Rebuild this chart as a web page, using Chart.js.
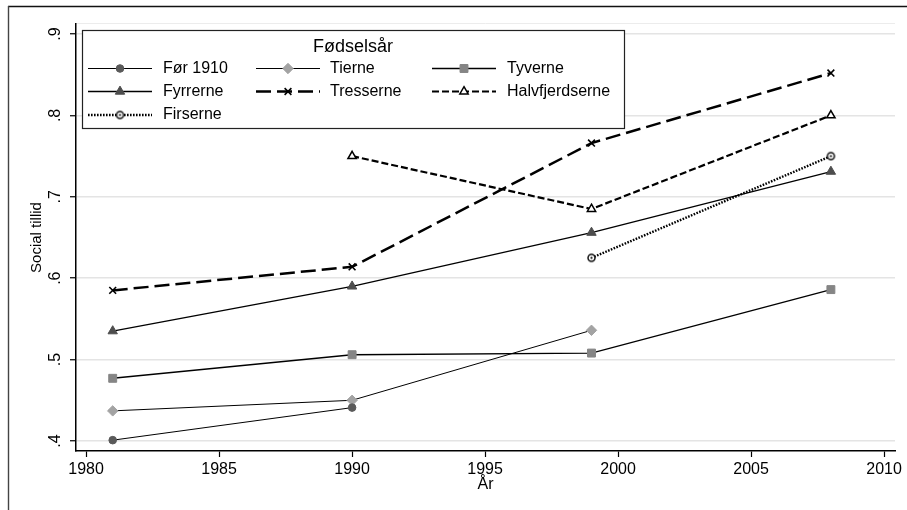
<!DOCTYPE html>
<html lang="da">
<head>
<meta charset="UTF-8">
<title>Social tillid efter fødselsår</title>
<script src="https://cdn.jsdelivr.net/npm/chart.js"></script>
<style>
  html, body { margin: 0; padding: 0; background: #fff; }
  #chart { display: block; }
</style>
</head>
<body>
<canvas id="chart" width="907" height="510"></canvas>
<script>
// survey years and cohort values
const years = [1981, 1990, 1999, 2008];
const for1910 = [0.401, 0.441, null, null];
const tierne = [0.437, 0.450, 0.536, null];
const tyverne = [0.477, 0.506, 0.508, 0.586];
const fyrrerne = [0.535, 0.590, 0.656, 0.731];
const tresserne = [0.585, 0.614, 0.766, 0.852];
const halvfjerdserne = [null, 0.750, 0.685, 0.800];
const firserne = [null, null, 0.625, 0.750];

const xTicks = [1980, 1985, 1990, 1995, 2000, 2005, 2010];
const yTicks = [0.4, 0.5, 0.6, 0.7, 0.8, 0.9];
const yTickLabels = ['.4', '.5', '.6', '.7', '.8', '.9'];

const FONT = '"Liberation Sans", Arial, sans-serif';

function points(vals) {
  const out = [];
  vals.forEach(function (v, i) {
    if (v !== null) out.push({ x: years[i], y: v });
  });
  return out;
}

// hollow circle with a dot in the middle
function ringDot() {
  const c = document.createElement('canvas');
  c.width = 11; c.height = 11;
  const g = c.getContext('2d');
  g.beginPath();
  g.arc(5.5, 5.5, 3.5, 0, Math.PI * 2);
  g.fillStyle = '#fff';
  g.fill();
  g.lineWidth = 1.5;
  g.strokeStyle = '#111';
  g.stroke();
  g.beginPath();
  g.arc(5.5, 5.5, 1.1, 0, Math.PI * 2);
  g.fillStyle = '#000';
  g.fill();
  return c;
}

function series(label, vals, o) {
  return {
    label: label,
    data: points(vals),
    borderColor: '#000',
    borderWidth: o.width,
    borderDash: o.dash || [],
    pointStyle: o.style,
    pointRadius: o.radius,
    pointBackgroundColor: o.fill,
    pointBorderColor: o.stroke || o.fill,
    pointBorderWidth: o.pbw || 1,
    fill: false,
    tension: 0
  };
}

const datasets = [
  series('Før 1910', for1910, { width: 1, style: 'circle', radius: 3.8, fill: '#5a5a5a' }),
  series('Tierne', tierne, { width: 1, style: 'rectRot', radius: 5.2, fill: '#a3a3a3' }),
  series('Tyverne', tyverne, { width: 1.4, style: 'rect', radius: 5.6, fill: '#858585' }),
  series('Fyrrerne', fyrrerne, { width: 1.4, style: 'triangle', radius: 5.4, fill: '#4d4d4d' }),
  series('Tresserne', tresserne, { width: 2.5, dash: [15, 6], style: 'crossRot', radius: 4.8, fill: '#000', pbw: 1.6 }),
  series('Halvfjerdserne', halvfjerdserne, { width: 2.2, dash: [7, 3], style: 'triangle', radius: 4.8, fill: '#fff', stroke: '#000', pbw: 1.5 }),
  series('Firserne', firserne, { width: 2.4, dash: [1.6, 1.4], style: ringDot(), radius: 4, fill: '#fff', stroke: '#000' })
];

// white page, frame lines, faint plot region top
const framePlugin = {
  id: 'frame',
  beforeDraw: function (chart) {
    const ctx = chart.ctx, a = chart.chartArea;
    ctx.save();
    ctx.fillStyle = '#fff';
    ctx.fillRect(0, 0, chart.width, chart.height);
    ctx.strokeStyle = '#111';
    ctx.lineWidth = 1.6;
    ctx.beginPath();
    ctx.moveTo(8, 6.5);
    ctx.lineTo(chart.width, 6.5);
    ctx.stroke();
    ctx.strokeStyle = '#444';
    ctx.lineWidth = 1.4;
    ctx.beginPath();
    ctx.moveTo(8.5, 6);
    ctx.lineTo(8.5, chart.height);
    ctx.stroke();
    ctx.strokeStyle = '#ececec';
    ctx.lineWidth = 1;
    ctx.beginPath();
    ctx.moveTo(a.left, a.top - 0.5);
    ctx.lineTo(a.right, a.top - 0.5);
    ctx.stroke();
    ctx.restore();
  }
};

// Stata-style boxed legend, three columns, title on top
const legendPlugin = {
  id: 'boxLegend',
  afterDraw: function (chart) {
    const ctx = chart.ctx;
    const box = { x: 82, y: 30, w: 542, h: 98 };
    const cols = [{ l0: 88, l1: 152, t: 163 }, { l0: 256, l1: 320, t: 330 }, { l0: 432, l1: 496, t: 507 }];
    const rows = [68.5, 91.5, 115];
    ctx.save();
    ctx.fillStyle = '#fff';
    ctx.fillRect(box.x, box.y, box.w, box.h);
    ctx.strokeStyle = '#222';
    ctx.lineWidth = 1.2;
    ctx.strokeRect(box.x + 0.5, box.y + 0.5, box.w, box.h);
    ctx.fillStyle = '#000';
    ctx.font = '18px ' + FONT;
    ctx.textBaseline = 'middle';
    ctx.textAlign = 'center';
    ctx.fillText('Fødselsår', 353, 47);
    ctx.font = '16px ' + FONT;
    ctx.textAlign = 'left';
    chart.data.datasets.forEach(function (ds, i) {
      const c = cols[i % 3], y = rows[Math.floor(i / 3)];
      ctx.save();
      ctx.strokeStyle = ds.borderColor;
      ctx.lineWidth = ds.borderWidth;
      ctx.setLineDash(ds.borderDash);
      ctx.beginPath();
      ctx.moveTo(c.l0, y);
      ctx.lineTo(c.l1, y);
      ctx.stroke();
      ctx.restore();
      const mx = (c.l0 + c.l1) / 2;
      ctx.save();
      ctx.fillStyle = ds.pointBackgroundColor;
      ctx.strokeStyle = ds.pointBorderColor;
      ctx.lineWidth = ds.pointBorderWidth;
      if (Chart.helpers && Chart.helpers.drawPoint) {
        Chart.helpers.drawPoint(ctx, { pointStyle: ds.pointStyle, radius: ds.pointRadius, borderWidth: ds.pointBorderWidth, rotation: 0 }, mx, y);
      }
      ctx.restore();
      ctx.fillStyle = '#000';
      ctx.fillText(ds.label, c.t, y);
    });
    ctx.restore();
  }
};

new Chart(document.getElementById('chart'), {
  type: 'line',
  data: { datasets: datasets },
  options: {
    responsive: false,
    devicePixelRatio: 1,
    animation: false,
    events: [],
    layout: { padding: { top: 24, right: 12, left: 0, bottom: 0 } },
    plugins: { legend: { display: false }, tooltip: { enabled: false } },
    scales: {
      x: {
        type: 'linear',
        min: 1979.62,
        max: 2010.41,
        afterBuildTicks: function (s) { s.ticks = xTicks.map(function (v) { return { value: v }; }); },
        afterFit: function (s) { s.height = 59; },
        ticks: {
          callback: function (v) { return String(v); },
          autoSkip: false,
          maxRotation: 0,
          padding: 3,
          color: '#000',
          font: { family: FONT, size: 16 }
        },
        grid: { drawOnChartArea: false, tickLength: 6, tickColor: '#000', tickWidth: 1.2 },
        border: { color: '#000', width: 1.5 },
        title: { display: true, text: 'År', color: '#000', font: { family: FONT, size: 16 }, padding: { top: 0, bottom: 16 } }
      },
      y: {
        type: 'linear',
        min: 0.3877,
        max: 0.9123,
        afterBuildTicks: function (s) { s.ticks = yTicks.map(function (v) { return { value: v }; }); },
        afterFit: function (s) { s.width = 76; },
        ticks: {
          callback: function (v, i) { return yTickLabels[i]; },
          autoSkip: false,
          minRotation: 90,
          maxRotation: 90,
          crossAlign: 'center',
          padding: 8,
          color: '#000',
          font: { family: FONT, size: 16 }
        },
        grid: { color: '#e4e4e4', lineWidth: 1.5, tickLength: 6, tickColor: '#000', tickWidth: 1.2 },
        border: { color: '#000', width: 1.5 },
        title: { display: true, text: 'Social tillid', color: '#000', font: { family: FONT, size: 15 }, padding: { top: 28, bottom: 0 } }
      }
    }
  },
  plugins: [framePlugin, legendPlugin]
});
</script>
</body>
</html>
